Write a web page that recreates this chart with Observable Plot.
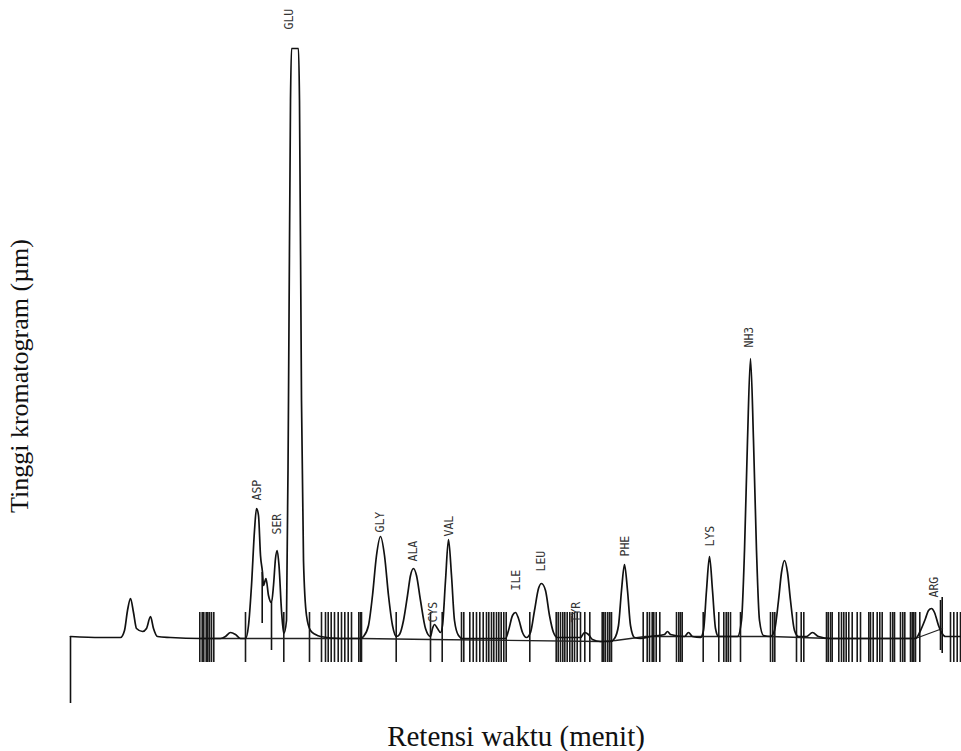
<!DOCTYPE html>
<html><head><meta charset="utf-8">
<script src="https://cdn.jsdelivr.net/npm/d3@7"></script>
<script src="https://cdn.jsdelivr.net/npm/@observablehq/plot@0.6"></script>
<style>body{margin:0;background:#fff}</style>
</head><body><div id="chart"></div>
<script>
// Chromatogram trace (retention time units, height units above baseline)
const traceT = [0,30,50,54,57,60,63,66,72,76,80,83,87,100,130,150,155,160,165,170,175,178,181,184,186,188,190,192,193,195.5,198,201,203,205,206.7,208.5,211,213.3,216,218,220,221,228,229,231,233,236,240,245,250,270,290,293,298,302,306,310,314,318,322,326,329,333,337,340,343,346,350,355,360,362,364,367,370,372,375,378,381,384,388,392,435,438,442,445,448,452,456,460,464,468,471,475,479,483,487,510,514,518,522,530,540,544,548,551,554,557,560,564,570,580,594,597,600,614,618,622,630,633,636,639,642,645,648,667,671,674,677,680,683,686,689,693,700,704,708,711,714,717,720,724,728,736,742,748,760,845,850,855,858,861,864,868,871,875,891];
const traceH = [2,1,1,8,28,40,26,10,7,10,22,10,2,1,0,0,2,6,4,0,0,13,53,108,130,123,83,66,53,60,43,36,53,80,88,73,28,5,18,238,538,590,590,538,238,78,23,8,4,2,0,0,2,13,43,83,102,83,43,13,2,4,18,43,63,70,63,38,10,2,10,14,10,6,13,58,99,63,18,3,0,0,8,23,26,20,6,1,6,28,50,55,48,23,6,1,1,6,4,-1,-3,-3,0,13,48,74,48,13,1,0,2,4,7,4,2,6,2,1,8,48,82,48,10,2,2,18,88,198,280,198,88,18,3,2,8,38,66,78,66,38,8,2,2,6,2,0,0,8,20,28,30,26,13,6,2,2];

// Integration baseline segments
const baseT = [130,290,360,530,545,575,700,760,845, 845,872];
const baseH = [0,0,-1,-3,-2,2,2,0,0, 0,10];
const baseSeg = [0,0,0,0,0,0,0,0,0, 1,1];

// Integrator tick marks (regular height)
const tickT = [129.3,131.7,133.3,135.7,137.3,139,141,143.3,
  175,213.3,239,
  251,255,257.7,260.7,264,267.7,271,274.3,277.7,281,288.3,290,291,
  325.7,360,371.7,
  391,393.3,399.3,402.7,406,409.3,412.7,416,418.3,421,423.3,426,428.3,430.7,433.3,435.7,
  459.3,
  485.7,487.7,490,492.3,494.3,496.7,499.3,501.7,504,506.7,510,514.3,519.3,
  531.7,533.3,535,537.3,539.3,541,
  572.7,576.7,579,581.7,583.3,585.7,589.3,
  606,608.3,610,611.7,
  632.7,648.3,653.3,655.7,657.7,660,670,
  700,702.3,704.3,726,730.7,733.3,
  756,757.7,760,761.7,768.3,771,773.3,775.7,778.3,781.7,786.7,790,798.3,800,802.7,806.7,809.3,811.7,820,822.3,824,830,832.3,834.3,840,841.7,843.3,845,849.3,
  880,883.3,886.7,890];
const tickLow = -24, tickHigh = 26;

// Irregular drop lines: injection mark, ASP shoulder splits, ARG spike
const dropT = [0,191.7,201,870,871.7];
const dropTop = [2,66,36,38,41];
const dropBottom = [-65,15,-12,-12,-15];

// Peak labels
const peakNames = ["ASP","SER","GLU","GLY","ALA","CYS","VAL","ILE","LEU","TYR","PHE","LYS","NH3","ARG"];
const labelT = [187,207,219,310,343,363,379,446,471,506,555,640,679,864];
const labelH = [138,104,609,106,77,16,102,48,67,16,82,92,291,41];

const trace = traceT.map((t,i)=>({t, h: traceH[i]}));
const baseline = baseT.map((t,i)=>({t, h: baseH[i], seg: baseSeg[i]}));
const drops = dropT.map((t,i)=>({t, top: dropTop[i], bottom: dropBottom[i]}));
const labels = peakNames.map((name,i)=>({name, t: labelT[i], h: labelH[i]}));

const chart = Plot.plot({
  width: 961, height: 751, margin: 0,
  x: {domain: [-70, 891], axis: null},
  y: {domain: [-113, 638], axis: null},
  style: {background: "#fff"},
  marks: [
    Plot.ruleX(tickT, {x: d=>d, y1: tickLow, y2: tickHigh, stroke: "#1a1a1a", strokeWidth: 1.6}),
    Plot.ruleX(drops, {x: "t", y1: "bottom", y2: "top", stroke: "#111", strokeWidth: 1.6}),
    Plot.line(baseline, {x: "t", y: "h", z: "seg", stroke: "#222", strokeWidth: 1.3}),
    Plot.line(trace, {x: "t", y: "h", curve: "monotone-x", stroke: "#111", strokeWidth: 1.7}),
    Plot.text(labels, {x: "t", y: "h", text: "name", rotate: -90, textAnchor: "start", lineAnchor: "middle",
      fontFamily: "DejaVu Sans Mono", fontSize: 11.5, fill: "#333"}),
    Plot.text(["Tinggi kromatogram (µm)"], {frameAnchor: "left", dx: 19, rotate: -90, textAnchor: "middle",
      lineAnchor: "middle", fontFamily: "Liberation Serif", fontSize: 26, fill: "#111"}),
    Plot.text(["Retensi waktu (menit)"], {frameAnchor: "bottom", dx: 35, dy: -15, textAnchor: "middle",
      lineAnchor: "middle", fontFamily: "Liberation Serif", fontSize: 29, fill: "#111"})
  ]
});
document.getElementById("chart").appendChild(chart);
</script>
</body></html>
